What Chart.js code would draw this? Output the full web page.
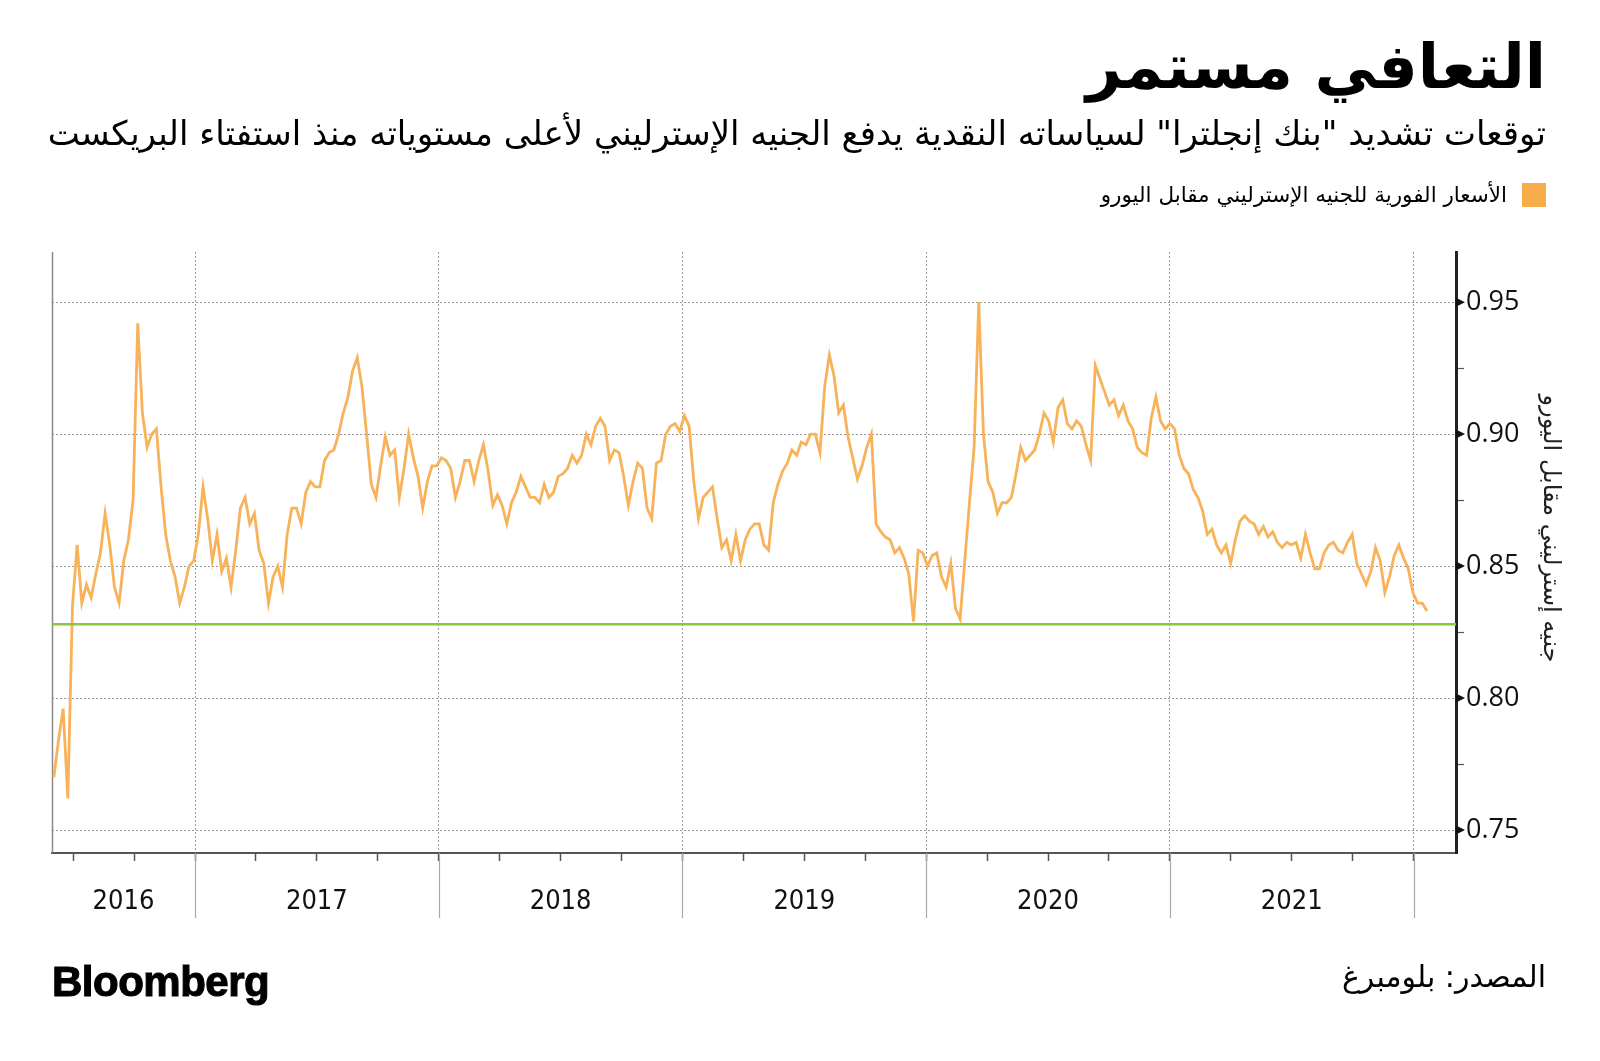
<!DOCTYPE html>
<html lang="ar">
<head>
<meta charset="utf-8">
<script src="https://cdn.jsdelivr.net/npm/chart.js@4.4.1/dist/chart.umd.min.js"></script>
<style>
  html, body { margin:0; padding:0; background:#fff; }
  #wrap { position:relative; width:1600px; height:1061px; overflow:hidden; background:#fff; }
  #c { position:absolute; left:0; top:0; }
  .ar { position:absolute; direction:rtl; white-space:nowrap; color:#000; font-family:'DejaVu Sans', sans-serif; }
  #title { right:54px; top:32px; font-size:62px; line-height:70px; font-weight:bold; }
  #sub { right:54px; top:112px; font-size:34px; line-height:42px; }
  #legend { right:54px; top:183px; height:24px; display:flex; align-items:center; }
  #legend .sw { width:24px; height:24px; background:#f8ad4b; margin-left:15px; }
  #legend .lt { font-size:21.5px; line-height:24px; }
  #source { right:54px; top:957px; font-size:30px; line-height:40px; }
  #logo { position:absolute; left:52px; top:960px; font-family:'Liberation Sans', Arial, sans-serif; font-weight:bold; font-size:42px; line-height:44px; letter-spacing:-0.5px; color:#000; -webkit-text-stroke:1.1px #000; }
</style>
</head>
<body>
<div id="wrap">
  <canvas id="c" width="1600" height="1061"></canvas>
  <div id="title" class="ar">التعافي مستمر</div>
  <div id="sub" class="ar">توقعات تشديد "بنك إنجلترا" لسياساته النقدية يدفع الجنيه الإسترليني لأعلى مستوياته منذ استفتاء البريكست</div>
  <div id="legend" class="ar"><span class="sw"></span><span class="lt">الأسعار الفورية للجنيه الإسترليني مقابل اليورو</span></div>
  <div id="source" class="ar">المصدر: بلومبرغ</div>
  <div id="logo">Bloomberg</div>
</div>
<script>
// ---------------- DATA ----------------
// Weekly EUR/GBP spot readings (GBP per EUR), first reading week ending 2016-06-03
const seriesStart = '2016-06-03';
const stepDays = 7;
const eurGbp = [
  0.770, 0.784, 0.796, 0.762, 0.835, 0.858, 0.836, 0.843, 0.838, 0.847,
  0.855, 0.870, 0.858, 0.842, 0.836, 0.852, 0.860, 0.875, 0.942, 0.908,
  0.895, 0.900, 0.902, 0.880, 0.862, 0.852, 0.846, 0.836, 0.842, 0.850,
  0.852, 0.862, 0.880, 0.868, 0.852, 0.862, 0.848, 0.853, 0.842, 0.856,
  0.872, 0.876, 0.866, 0.870, 0.856, 0.851, 0.836, 0.846, 0.850, 0.842,
  0.862, 0.872,
  0.872, 0.866, 0.878, 0.882, 0.880, 0.880, 0.890, 0.893, 0.894, 0.900,
  0.908, 0.914, 0.924, 0.929, 0.918, 0.900, 0.881, 0.876, 0.888, 0.899,
  0.892, 0.894, 0.876, 0.887, 0.900, 0.891, 0.884, 0.872, 0.882, 0.888,
  0.888, 0.891, 0.890, 0.887, 0.876, 0.882, 0.890, 0.890, 0.882, 0.890,
  0.896, 0.886, 0.873, 0.877, 0.873, 0.866, 0.874, 0.878, 0.884, 0.880,
  0.876,
  0.876, 0.874, 0.881, 0.876, 0.878, 0.884, 0.885, 0.887, 0.892, 0.889,
  0.892, 0.900, 0.896, 0.903, 0.906, 0.903, 0.890, 0.894, 0.893, 0.884,
  0.873, 0.882, 0.889, 0.887, 0.872, 0.868, 0.889, 0.890, 0.900, 0.903,
  0.904, 0.901, 0.907, 0.903, 0.882, 0.868, 0.876, 0.878, 0.880, 0.868,
  0.857, 0.860, 0.852, 0.862, 0.852, 0.860, 0.864, 0.866, 0.866, 0.858,
  0.856, 0.874,
  0.881, 0.886, 0.889, 0.894, 0.892, 0.897, 0.896, 0.900, 0.900, 0.893,
  0.918, 0.930, 0.922, 0.908, 0.911, 0.899, 0.891, 0.883, 0.888, 0.895,
  0.900, 0.866, 0.863, 0.861, 0.860, 0.855, 0.857, 0.853, 0.847, 0.829,
  0.856, 0.855, 0.850, 0.854, 0.855, 0.846, 0.842, 0.851, 0.834, 0.830,
  0.852, 0.874, 0.895, 0.950, 0.900, 0.882, 0.878, 0.870, 0.874, 0.874,
  0.876,
  0.885, 0.895, 0.890, 0.892, 0.894, 0.900, 0.908, 0.905, 0.897, 0.910,
  0.913, 0.904, 0.902, 0.905, 0.903, 0.896, 0.890, 0.926, 0.921, 0.916,
  0.911, 0.913, 0.907, 0.911, 0.905, 0.902, 0.895, 0.893, 0.892, 0.906,
  0.914, 0.905, 0.902, 0.904, 0.902, 0.892, 0.887, 0.885, 0.879, 0.876,
  0.871, 0.862, 0.864, 0.858, 0.855, 0.858, 0.851, 0.860, 0.867, 0.869,
  0.867,
  0.866, 0.862, 0.865, 0.861, 0.863, 0.859, 0.857, 0.859, 0.858, 0.859,
  0.853, 0.862, 0.855, 0.849, 0.849, 0.855, 0.858, 0.859, 0.856, 0.855,
  0.859, 0.862, 0.851, 0.847, 0.843, 0.848, 0.857, 0.852, 0.840, 0.846,
  0.854, 0.858, 0.853, 0.849, 0.840, 0.836, 0.836, 0.833
];
const referenceLevel = 0.828;           // horizontal green line
const yearLabels = ['2016', '2017', '2018', '2019', '2020', '2021'];
const yTickValues = [0.75, 0.775, 0.80, 0.825, 0.85, 0.875, 0.90, 0.925, 0.95];
const xRange = [2016.4132, 2022.174];    // fractional years
const yRange = [0.7413, 0.969];
const yAxisTitle = 'جنيه إسترليني مقابل اليورو';
const seriesName = 'الأسعار الفورية للجنيه الإسترليني مقابل اليورو';

// ---------------- helpers ----------------
function fracYear(ms) {
  const d = new Date(ms); const y = d.getUTCFullYear();
  const s = Date.UTC(y, 0, 1), e = Date.UTC(y + 1, 0, 1);
  return y + (ms - s) / (e - s);
}
const t0 = Date.parse(seriesStart + 'T00:00:00Z');
const points = eurGbp.map((v, i) => ({ x: fracYear(t0 + i * stepDays * 864e5), y: v }));

const firstYear = +yearLabels[0];
const quarterTicks = [];
for (let y = firstYear; y <= 2022; y++) for (let q = 0; q < 4; q++) {
  const v = y + q / 4; if (v > xRange[0] && v <= xRange[1]) quarterTicks.push(v);
}
const labelPos = yearLabels.map(l => { const y = +l; return (Math.max(y, xRange[0]) + Math.min(y + 1, xRange[1])) / 2; });
const xTickValues = Array.from(new Set(quarterTicks.concat(labelPos))).sort((a, b) => a - b);
const near = (a, b) => Math.abs(a - b) < 1e-6;
const isYear = v => near(v, Math.round(v));
const isQuarter = v => quarterTicks.some(q => near(q, v));
const labelFor = v => { const i = labelPos.findIndex(p => near(p, v)); return i >= 0 ? yearLabels[i] : ''; };
const isMajorY = v => near(v * 20, Math.round(v * 20));

const decor = {
  id: 'decor',
  beforeDatasetsDraw(chart) {
    const { ctx, chartArea: a } = chart;
    ctx.save();
    ctx.strokeStyle = '#8a8a8a'; ctx.lineWidth = 1.5;
    ctx.beginPath(); ctx.moveTo(a.left + 0.5, a.top); ctx.lineTo(a.left + 0.5, a.bottom); ctx.stroke();
    ctx.restore();
  },
  afterDraw(chart) {
    const { ctx, chartArea: a, scales } = chart;
    ctx.save();
    ctx.strokeStyle = '#a8a8a8'; ctx.lineWidth = 1.2;
    for (let y = firstYear + 1; y <= 2022; y++) {
      const x = Math.round(scales.x.getPixelForValue(y)) + 0.5;
      ctx.beginPath(); ctx.moveTo(x, a.bottom); ctx.lineTo(x, a.bottom + 65); ctx.stroke();
    }
    ctx.fillStyle = '#111';
    yTickValues.filter(isMajorY).forEach(v => {
      const y = scales.y.getPixelForValue(v), x = scales.y.left;
      ctx.beginPath(); ctx.moveTo(x, y - 4.5); ctx.lineTo(x + 9, y); ctx.lineTo(x, y + 4.5); ctx.closePath(); ctx.fill();
    });
    // rotated axis title, right of the tick labels
    ctx.fillStyle = '#222';
    ctx.font = "24px 'DejaVu Sans', sans-serif";
    ctx.textAlign = 'center'; ctx.textBaseline = 'middle';
    ctx.translate(scales.y.right - 17, (a.top + a.bottom) / 2 - 24);
    ctx.rotate(Math.PI / 2);
    ctx.fillText(yAxisTitle, 0, 0);
    ctx.restore();
  }
};

new Chart(document.getElementById('c'), {
  type: 'line',
  data: {
    datasets: [
      { label: seriesName, data: points, borderColor: '#f7b25a', borderWidth: 2.8, pointRadius: 0, tension: 0, order: 2 },
      { label: 'level', data: [{ x: xRange[0], y: referenceLevel }, { x: xRange[1], y: referenceLevel }],
        borderColor: '#8cc63f', borderWidth: 2.5, pointRadius: 0, tension: 0, order: 1 }
    ]
  },
  options: {
    responsive: false, animation: false, events: [],
    layout: { padding: { left: 52, top: 252, right: 33, bottom: 138 } },
    plugins: { legend: { display: false }, tooltip: { enabled: false } },
    scales: {
      x: {
        type: 'linear', position: 'bottom', min: xRange[0], max: xRange[1],
        afterBuildTicks: s => { s.ticks = xTickValues.map(v => ({ value: v })); },
        afterFit: s => { s.height = 70; },
        ticks: {
          autoSkip: false, maxRotation: 0, minRotation: 0, padding: 25, color: '#111',
          font: { family: "'Liberation Sans Narrow', 'DejaVu Sans Condensed', sans-serif", size: 27 },
          callback: v => labelFor(v)
        },
        grid: {
          drawOnChartArea: true, lineWidth: 1, tickLength: 8, tickWidth: 1.5,
          color: c => (c.tick && isYear(c.tick.value)) ? '#9a9a9a' : 'rgba(0,0,0,0)',
          tickColor: c => (c.tick && isQuarter(c.tick.value)) ? '#555' : 'rgba(0,0,0,0)'
        },
        border: { color: '#555', width: 2, dash: [2, 2] }
      },
      y: {
        position: 'right', min: yRange[0], max: yRange[1],
        afterBuildTicks: s => { s.ticks = yTickValues.map(v => ({ value: v })); },
        afterFit: s => { s.width = 111; },
        ticks: {
          padding: 2, color: '#111',
          font: { family: "'Open Sans', 'Noto Sans', sans-serif", size: 27 },
          callback: v => isMajorY(v) ? v.toFixed(2) : ''
        },
        grid: {
          drawOnChartArea: true, lineWidth: 1, tickLength: 8, tickWidth: 1.2,
          color: c => (c.tick && isMajorY(c.tick.value)) ? '#9a9a9a' : 'rgba(0,0,0,0)',
          tickColor: c => (c.tick && !isMajorY(c.tick.value)) ? '#555' : 'rgba(0,0,0,0)'
        },
        border: { color: '#222', width: 3, dash: [2, 2] },
        title: { display: false }
      }
    }
  },
  plugins: [decor]
});
</script>
</body>
</html>
